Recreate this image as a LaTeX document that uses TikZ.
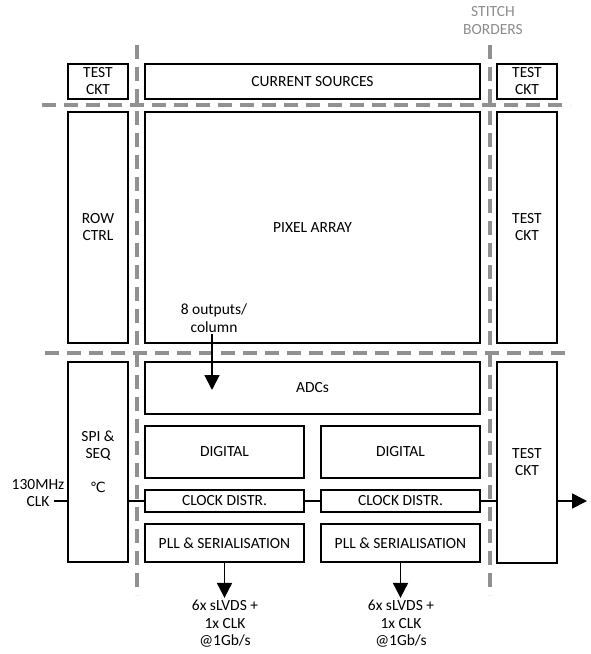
\documentclass[tikz,border=0pt]{standalone}
\usepackage{fontspec}
\setmainfont{Carlito}
\newfontfamily\symfont{DejaVu Sans}
\usetikzlibrary{arrows.meta}
\definecolor{stitch}{RGB}{145,145,145}
\definecolor{stitchtxt}{RGB}{140,140,140}
\begin{document}
\begin{tikzpicture}[x=1pt,y=-1pt,
  blk/.style={draw,line width=1.8pt,align=center,inner sep=0pt,font=\fontsize{15.5}{17}\selectfont},
  lbl/.style={align=center,inner sep=0pt,font=\fontsize{15.5}{17.5}\selectfont},
  wire/.style={line width=1.8pt},
  arr/.style={line width=1.8pt,-{Triangle[width=15pt,length=15pt]}},
  border/.style={stitch,line width=3.5pt,dash pattern=on 14pt off 8pt}]
\useasboundingbox (0,0) rectangle (590,654);
% stitch borders
\draw[border] (42,105) -- (570,105);
\draw[border] (45,353) -- (572,353);
\draw[border] (137,45) -- (137,595);
\draw[border] (490,45) -- (490,595);
\node[lbl,text=stitchtxt] (sb) at (493,20.5) {STITCH\\BORDERS};
% top row
\node[blk,minimum width=60,minimum height=35] (tl) at (98,81.5) {TEST\\CKT};
\node[blk,minimum width=335,minimum height=35] (cs) at (312.5,81.5) {CURRENT SOURCES};
\node[blk,minimum width=60,minimum height=35] (tr) at (527,81.5) {TEST\\CKT};
% middle row
\node[blk,minimum width=60,minimum height=231] (row) at (98,227.5) {ROW\\CTRL};
\node[blk,minimum width=335,minimum height=231] (pix) at (312.5,227.5) {PIXEL ARRAY};
\node[blk,minimum width=60,minimum height=231] (trm) at (527,227.5) {TEST\\CKT};
% bottom row
\node[blk,minimum width=60,minimum height=200] (spi) at (98,462) {SPI \&\\SEQ\\\\{\symfont\fontsize{14}{17}\selectfont ℃}};
\node[blk,minimum width=335,minimum height=52] (adc) at (312.5,388) {ADCs};
\node[blk,minimum width=159,minimum height=52] (dig1) at (224.5,452) {DIGITAL};
\node[blk,minimum width=159,minimum height=52] (dig2) at (400.5,452) {DIGITAL};
\node[blk,minimum width=159,minimum height=22] (clk1) at (224.5,501) {CLOCK DISTR.};
\node[blk,minimum width=159,minimum height=22] (clk2) at (400.5,501) {CLOCK DISTR.};
\node[blk,minimum width=159,minimum height=38] (pll1) at (224.5,543) {PLL \& SERIALISATION};
\node[blk,minimum width=159,minimum height=38] (pll2) at (400.5,543) {PLL \& SERIALISATION};
\node[blk,minimum width=60,minimum height=201] (trb) at (527,462.5) {TEST\\CKT};
% labels
\node[lbl] (clkin) at (38,493) {130MHz\\CLK};
\coordinate (clkend) at (54,501);
\node[lbl] (outs) at (214,318) {8 outputs/\\column};
\coordinate (adcin) at (212,390);
\node[lbl,anchor=north] (o1) at (225,600) {6x sLVDS +\\1x CLK\\@1Gb/s};
\node[lbl,anchor=north] (o2) at (401,600) {6x sLVDS +\\1x CLK\\@1Gb/s};
\coordinate (out) at (587,501);
% connectors
\draw[wire] (clkend) -- (clkend -| spi.west);
\draw[wire] (spi.east |- clk1) -- (clk1.west);
\draw[wire] (clk1.east) -- (clk2.west);
\draw[wire] (clk2.east) -- (trb.west |- clk2);
\draw[arr] (trb.east |- clk2) -- (out);
\draw[arr] (adcin |- outs.south) ++(0,2) -- (adcin);
\draw[arr] (pll1.south) -- ++(0,35);
\draw[arr] (pll2.south) -- ++(0,35);
\end{tikzpicture}
\end{document}
